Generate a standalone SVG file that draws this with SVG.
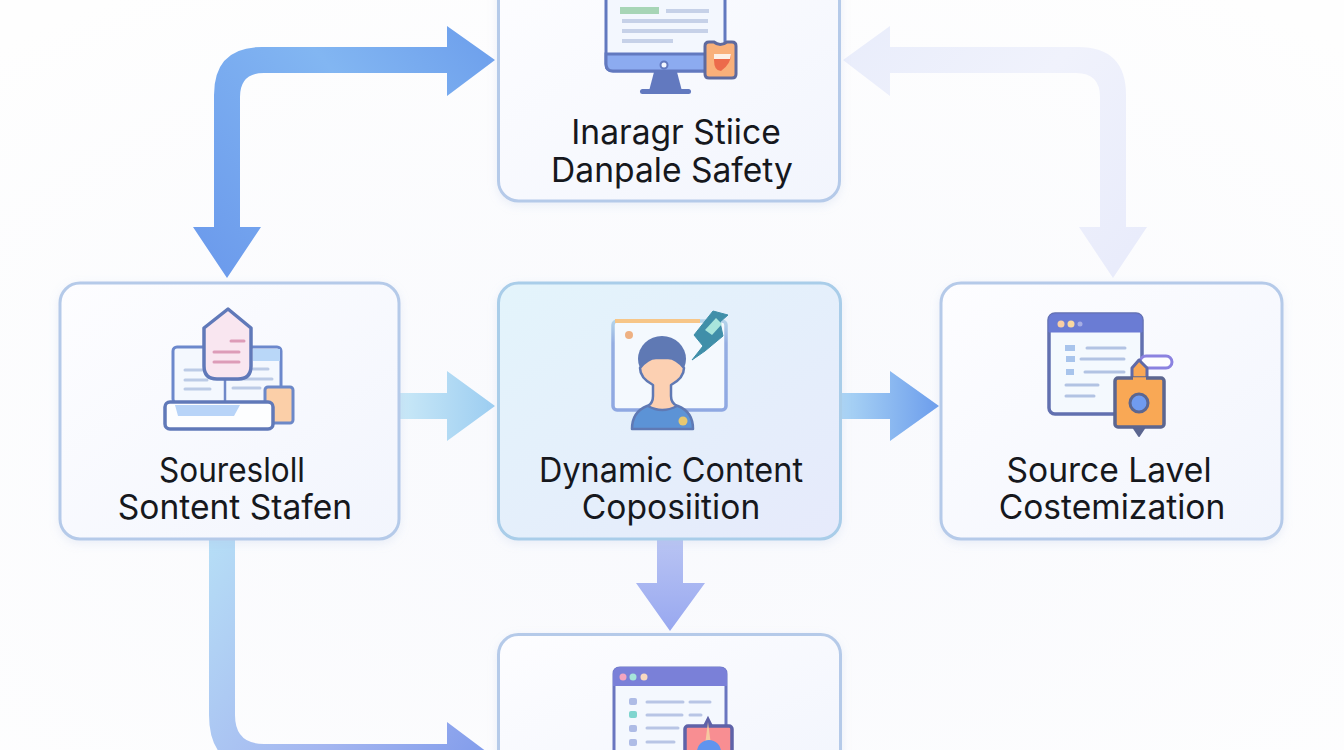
<svg xmlns="http://www.w3.org/2000/svg" width="1344" height="750" viewBox="0 0 1344 750">
<style>
.card{stroke-width:3}
.plain{fill:url(#cardFill);stroke:#b5cae9}
.hot{fill:url(#hotFill);stroke:#a9cde9}
.label{font-family:Inter,"Liberation Sans",sans-serif;font-size:33.6px;fill:#16181d;text-anchor:middle}
.ln{stroke-width:3;stroke-linecap:round;fill:none}
</style>
<defs>
<radialGradient id="bg" cx="0.5" cy="0.62" r="0.75"><stop offset="0" stop-color="#f8f9fd"/><stop offset="1" stop-color="#fefefe"/></radialGradient>
<linearGradient id="cardFill" x1="0" y1="0" x2="1" y2="1"><stop offset="0" stop-color="#fdfdff"/><stop offset="1" stop-color="#f2f5fd"/></linearGradient>
<linearGradient id="hotFill" x1="0" y1="0" x2="1" y2="1"><stop offset="0" stop-color="#e3f4fb"/><stop offset="1" stop-color="#e6eafb"/></linearGradient>
<linearGradient id="a1" gradientUnits="userSpaceOnUse" x1="495" y1="40" x2="214" y2="270"><stop offset="0" stop-color="#6d9fec"/><stop offset="0.4" stop-color="#82b6f2"/><stop offset="1" stop-color="#6c9bec"/></linearGradient>
<linearGradient id="a2" gradientUnits="userSpaceOnUse" x1="843" y1="40" x2="1113" y2="270"><stop offset="0" stop-color="#e9edfb"/><stop offset="0.5" stop-color="#f0f2fc"/><stop offset="1" stop-color="#e9ecfb"/></linearGradient>
<linearGradient id="a3" gradientUnits="userSpaceOnUse" x1="400" y1="0" x2="495" y2="0"><stop offset="0" stop-color="#c9e8f7"/><stop offset="1" stop-color="#9ccdf1"/></linearGradient>
<linearGradient id="a4" gradientUnits="userSpaceOnUse" x1="842" y1="0" x2="939" y2="0"><stop offset="0" stop-color="#abd5f5"/><stop offset="1" stop-color="#6c9dec"/></linearGradient>
<linearGradient id="a5" gradientUnits="userSpaceOnUse" x1="0" y1="540" x2="0" y2="631"><stop offset="0" stop-color="#b9c4f3"/><stop offset="1" stop-color="#98a8f0"/></linearGradient>
<linearGradient id="a6" gradientUnits="userSpaceOnUse" x1="209" y1="540" x2="495" y2="760"><stop offset="0" stop-color="#b6def6"/><stop offset="0.6" stop-color="#a4b6f0"/><stop offset="1" stop-color="#7f9aeb"/></linearGradient>
<linearGradient id="winEdge" x1="0" y1="0" x2="0" y2="1"><stop offset="0" stop-color="#b4d4ea"/><stop offset="0.25" stop-color="#95aee2"/><stop offset="1" stop-color="#8fa8e2"/></linearGradient>
<filter id="soft" x="-5%" y="-5%" width="110%" height="110%"><feGaussianBlur stdDeviation="0.5"/></filter>
<filter id="shadow" x="-6%" y="-6%" width="112%" height="114%"><feDropShadow dx="0" dy="3" stdDeviation="5" flood-color="#a9bbe0" flood-opacity="0.22"/></filter>
</defs>
<rect width="1344" height="750" fill="url(#bg)"/>

<g id="connectors">
<path id="c-top-left" fill="url(#a1)" d="M495 60L447 26V47H262Q214 47 214 95V227H193L227 278L261 227H240V97Q240 73 264 73H447V96Z"/>
<path id="c-top-right" fill="url(#a2)" d="M843 60L890 26V47H1078Q1126 47 1126 95V227H1147L1113 278L1079 227H1100V97Q1100 73 1076 73H890V96Z"/>
<path id="c-left-center" fill="url(#a3)" d="M400 393H447V371L495 406L447 441V419H400Z"/>
<path id="c-center-right" fill="url(#a4)" d="M842 393H890V371L939 406L890 441V419H842Z"/>
<path id="c-center-bottom" fill="url(#a5)" d="M657 540H683V583H705L670 631L636 583H657Z"/>
<path id="c-left-bottom" fill="url(#a6)" d="M209 540V715Q209 770 264 770H447V795L495 758L447 722V744H264Q235 744 235 715V540Z"/>
</g>

<g id="node-top">
<rect class="card plain" filter="url(#shadow)" x="498.500" y="-30" width="341" height="231" rx="20"/>
<g filter="url(#soft)">
<path d="M606-5H725V64Q725 71 718 71H613Q606 71 606 64Z" fill="#f3f7fe" stroke="#6279bf" stroke-width="3"/>
<path d="M606 54H725V64Q725 71 718 71H613Q606 71 606 64Z" fill="#8cabf0" stroke="#6279bf" stroke-width="3"/>
<path d="M654 72H677L682 91H649Z" fill="#6279bf"/>
<rect x="640" y="89" width="51" height="5" rx="2.500" fill="#6279bf"/>
<circle cx="664" cy="65" r="3.500" fill="#f3f7fe" stroke="#6279bf" stroke-width="2"/>
<rect x="620" y="7" width="39" height="7" fill="#a7d5b6"/>
<rect x="666" y="9" width="43" height="4" fill="#c6d1e8"/>
<rect x="622" y="19" width="86" height="4" fill="#c6d1e8"/>
<rect x="622" y="29" width="86" height="4" fill="#c6d1e8"/>
<rect x="622" y="39" width="51" height="4" fill="#c6d1e8"/>
<path d="M705 46Q705 42 709 42L714 42Q720 47 727 42H732Q736 42 736 46V74Q736 78 732 78H709Q705 78 705 74Z" fill="#f9b07a" stroke="#5f6a9e" stroke-width="3"/>
<path d="M714 54H731Q731 64 721 71Q714 71 714 60Z" fill="#ec6a4c"/>
<path d="M714 54H731L730 59H714Z" fill="#fdf0e6"/>
</g>
<text class="label" x="676" y="144">Inaragr Stiice</text>
<text class="label" x="672" y="182">Danpale Safety</text>
</g>

<g id="node-left">
<rect class="card plain" filter="url(#shadow)" x="60" y="283" width="339" height="256" rx="20"/>
<g filter="url(#soft)">
<rect x="173" y="347" width="108" height="56" rx="4" fill="#f4f8fe" stroke="#6c88cc" stroke-width="3"/>
<rect x="253" y="349" width="27" height="12" fill="#b9d7f8"/>
<path class="ln" stroke="#bccbe6" d="M185 370H202M185 380H207M185 389H210M253 369H268M232 379H272M233 388H260"/>
<path d="M225 379V402" stroke="#7089c8" stroke-width="2.500"/>
<rect x="265" y="387" width="28" height="36" rx="3" fill="#fbcfa8" stroke="#6c88c8" stroke-width="3"/>
<rect x="165" y="402" width="108" height="27" rx="5" fill="#fdfeff" stroke="#6179b9" stroke-width="3.500"/>
<path d="M175 405H240L234 416H178Z" fill="#b8d4f8"/>
<path d="M228 309L251 328V366Q251 379 238 379H217Q204 379 204 366V328Z" fill="#f9e6f0" stroke="#6179b9" stroke-width="3.500" stroke-linejoin="round"/>
<path class="ln" stroke="#dd9cb8" d="M231 341H244M214 352H239M214 362H239"/>
</g>
<text class="label" x="232" y="482" textLength="146" lengthAdjust="spacingAndGlyphs">Souresloll</text>
<text class="label" x="235" y="519">Sontent Stafen</text>
</g>

<g id="node-center">
<rect class="card hot" filter="url(#shadow)" x="498.500" y="283" width="342" height="256" rx="20"/>
<g filter="url(#soft)">
<rect x="613" y="321" width="113" height="89" rx="4" fill="#f4f9fe" stroke="url(#winEdge)" stroke-width="3.500"/>
<path d="M615 321H700" stroke="#f7c688" stroke-width="4"/>
<circle cx="629" cy="335" r="4" fill="#eeb183"/>
<path d="M632 429Q632 412 647 406L662 402L678 406Q693 412 693 429Z" fill="#5c93d6" stroke="#5f79b4" stroke-width="2.500" stroke-linejoin="round"/>
<ellipse cx="662" cy="359" rx="24" ry="23" fill="#5f79b4"/>
<path d="M653 385V396Q653 403 648 406Q662 414 677 406Q671 403 671 396V385Q684 378 684 368Q676 358 668 358H656Q648 358 640 368Q640 378 653 385Z" fill="#fcd0b2" stroke="#5f79b4" stroke-width="2.500" stroke-linejoin="round"/>
<circle cx="683" cy="421" r="4.500" fill="#e7c86f"/>
<path d="M692 360L703 346L694 335L713 311L728 315L720 322L723 336L705 351Z" fill="#3f8fa9" stroke="#3f8fa9" stroke-linejoin="round"/>
<path d="M705 330L716 318L722 324L712 335Z" fill="#a9e6dc"/>
</g>
<text class="label" x="671" y="482" textLength="264" lengthAdjust="spacingAndGlyphs">Dynamic Content</text>
<text class="label" x="671" y="519">Coposiition</text>
</g>

<g id="node-right">
<rect class="card plain" filter="url(#shadow)" x="941" y="283" width="341" height="256" rx="20"/>
<g filter="url(#soft)">
<rect x="1049" y="314" width="93" height="100" rx="6" fill="#f4f9fe" stroke="#6270b0" stroke-width="3.500"/>
<path d="M1049 332V320Q1049 314 1055 314H1136Q1142 314 1142 320V332Z" fill="#6b7bd4" stroke="#6b7bd4"/>
<circle cx="1061" cy="324" r="3.500" fill="#f9cfa5"/><circle cx="1071" cy="324" r="3.500" fill="#f9d9a0"/><circle cx="1080" cy="324" r="2.500" fill="#a6aee3"/>
<path d="M1065 348H1075M1066 359H1075M1066 372H1074" stroke="#a8c4ec" stroke-width="6"/>
<path class="ln" stroke="#b2c3e3" d="M1087 348H1125M1081 359H1124M1085 372H1124M1066 385H1098M1066 396H1094"/>
<rect x="1140" y="356" width="32" height="12" rx="6" fill="#fdfdff" stroke="#8b82e0" stroke-width="3"/>
<path d="M1132 379V368L1139 360L1147 368V379Z" fill="#f9a855" stroke="#5e6aa8" stroke-width="3" stroke-linejoin="round"/>
<path d="M1133 427L1139 436L1145 427Z" fill="#5b6690" stroke="#5b6690" stroke-width="2" stroke-linejoin="round"/>
<rect x="1115" y="378" width="49" height="49" rx="3" fill="#f9a855" stroke="#5b6690" stroke-width="3.500"/>
<path d="M1133 379H1146" stroke="#f9a855" stroke-width="3.500"/>
<circle cx="1139" cy="403" r="9" fill="#6f9bf0" stroke="#5b6690" stroke-width="3"/>
</g>
<text class="label" x="1109" y="482">Source Lavel</text>
<text class="label" x="1112" y="519">Costemization</text>
</g>

<g id="node-bottom">
<rect class="card plain" filter="url(#shadow)" x="498.500" y="634.500" width="342" height="150" rx="20"/>
<g filter="url(#soft)">
<path d="M614 760V674Q614 668 620 668H720Q726 668 726 674V760Z" fill="#f4f8fe" stroke="#6b76c0" stroke-width="3"/>
<path d="M613 686V674Q613 667 620 667H720Q727 667 727 674V686Z" fill="#7a80d8"/>
<circle cx="623" cy="677" r="3.500" fill="#f5a5c0"/><circle cx="633" cy="677" r="3.500" fill="#a6e5da"/><circle cx="644" cy="677" r="3.500" fill="#f7d8c0"/>
<g fill="#aebce6"><rect x="629" y="698" width="8" height="7" rx="2"/><rect x="629" y="711" width="8" height="7" rx="2" fill="#7fd5cf"/><rect x="629" y="725" width="8" height="7" rx="2"/><rect x="629" y="739" width="8" height="7" rx="2"/></g>
<path class="ln" stroke="#b8c5e5" d="M647 702H683M690 702H710M647 715H682M690 715H701M647 728H678M647 742H674"/>
<path d="M704 726L708 718L712 726Z" fill="#5e62a8" stroke="#5e62a8" stroke-width="2"/>
<rect x="685" y="726" width="47" height="40" rx="3" fill="#f88e92" stroke="#5e62a8" stroke-width="3.500"/>
<path d="M708 722L711 745H705Z" fill="#f6c8a0"/>
<circle cx="709" cy="752" r="12" fill="#5f94ee"/>
</g>
</g>
</svg>
